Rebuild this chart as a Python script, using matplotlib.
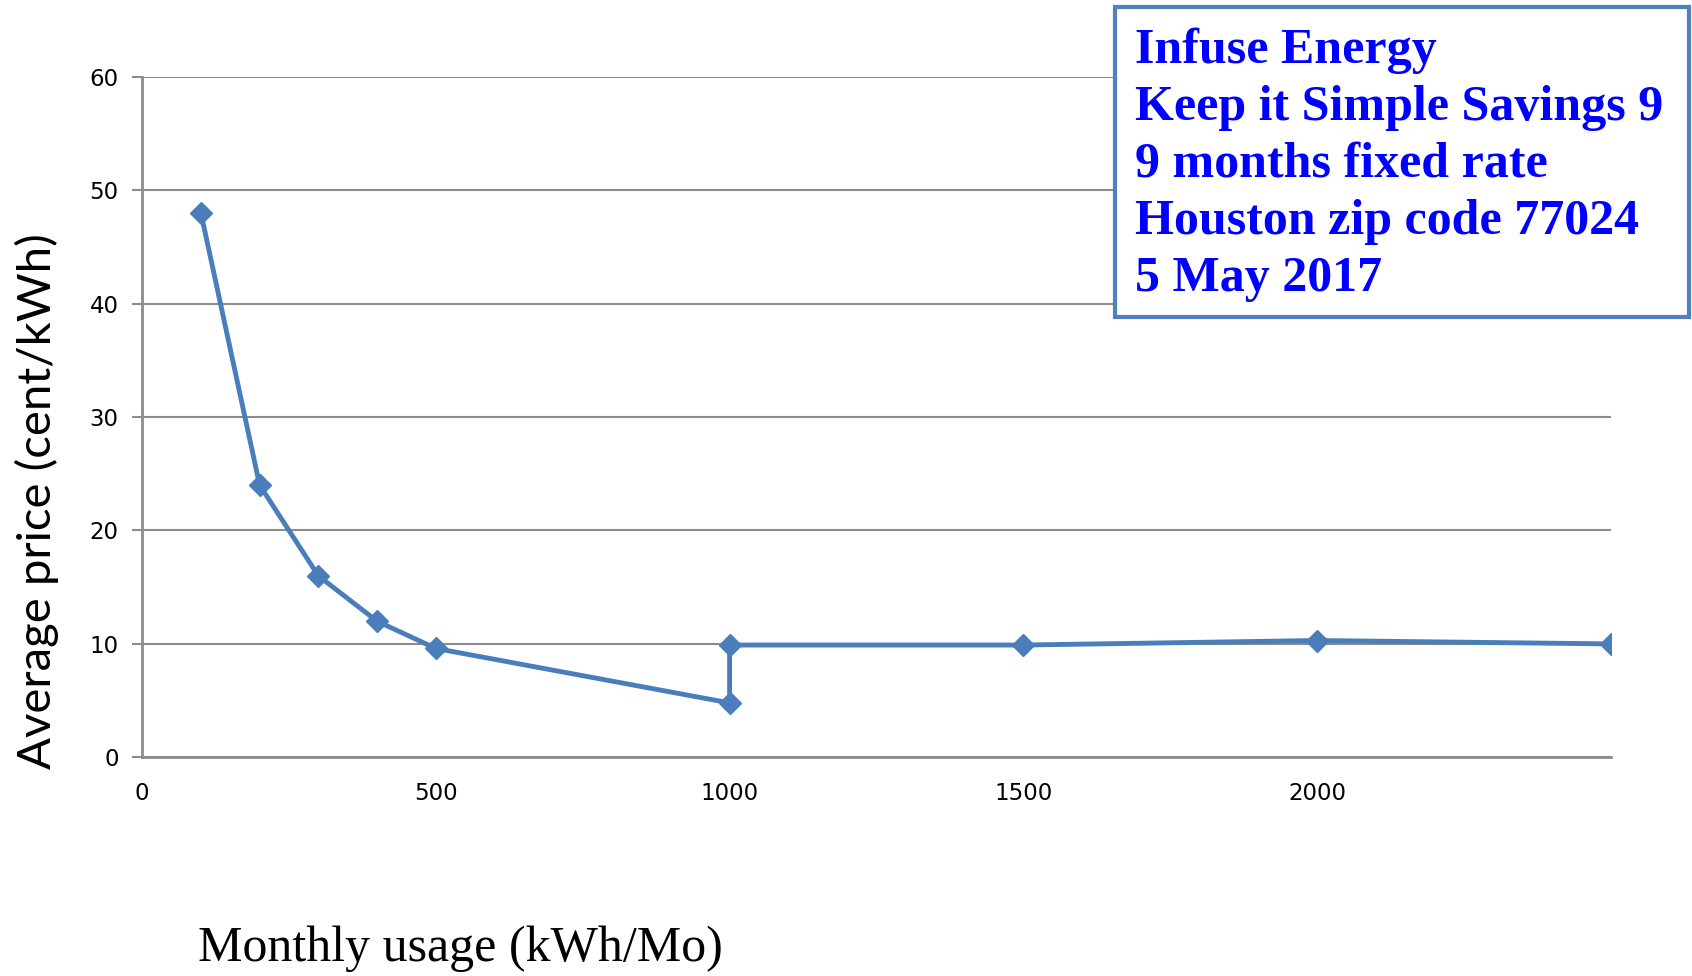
import matplotlib
matplotlib.use("Agg")
import matplotlib.pyplot as plt

# monthly usage (kWh/Mo) and average price (cent/kWh)
usage = [100, 200, 300, 400, 500, 1000, 1000, 1500, 2000, 2500]
price = [48, 24, 16, 12, 9.6, 4.8, 9.9, 9.9, 10.3, 10.0]
x_ticks = [0, 500, 1000, 1500, 2000]
y_ticks = [0, 10, 20, 30, 40, 50, 60]
box_lines = ["Infuse Energy",
             "Keep it Simple Savings 9",
             "9 months fixed rate",
             "Houston zip code 77024",
             "5 May 2017"]

line_color = "#4A7EBB"
grid_color = "#8C8C8C"

fig = plt.figure(figsize=(16.92, 9.76), dpi=100)
ax = fig.add_axes([0.084, 0.224, 0.868, 0.6975])

ax.plot(usage, price, color=line_color, lw=3.5, marker="D", markersize=11,
        markeredgecolor=line_color, markerfacecolor=line_color, zorder=3)

ax.set_xlim(0, 2500)
ax.set_ylim(0, 60)
ax.set_xticks(x_ticks)
ax.set_yticks(y_ticks)
ax.yaxis.grid(True, color=grid_color, lw=1.5)
ax.set_axisbelow(True)

for s in ["top", "right"]:
    ax.spines[s].set_visible(False)
for s in ["left", "bottom"]:
    ax.spines[s].set_color(grid_color)
    ax.spines[s].set_linewidth(2)

ax.tick_params(axis="y", length=7, width=1.5, color=grid_color, pad=10,
               labelsize=16.5)
ax.tick_params(axis="x", length=0, pad=18, labelsize=16.5)

fig.text(0.022, 0.487, "Average price (cent/kWh)", rotation=90,
         family="Lato", fontsize=34, ha="center", va="center")
fig.text(0.272, 0.028, "Monthly usage (kWh/Mo)", family="Liberation Serif",
         fontsize=36, ha="center", va="center")

# annotation box in the top right corner
box = plt.Rectangle((0.659, 0.675), 0.339, 0.318, transform=fig.transFigure,
                    facecolor="white", edgecolor="#4F81BD", lw=3, zorder=5)
fig.add_artist(box)
for i, line in enumerate(box_lines):
    fig.text(0.671, 0.948 - i * 0.0585, line, family="Liberation Serif",
             fontweight="bold", fontsize=36, color="#0000FF",
             ha="left", va="center", zorder=6)

fig.savefig("out.png", dpi=100)
